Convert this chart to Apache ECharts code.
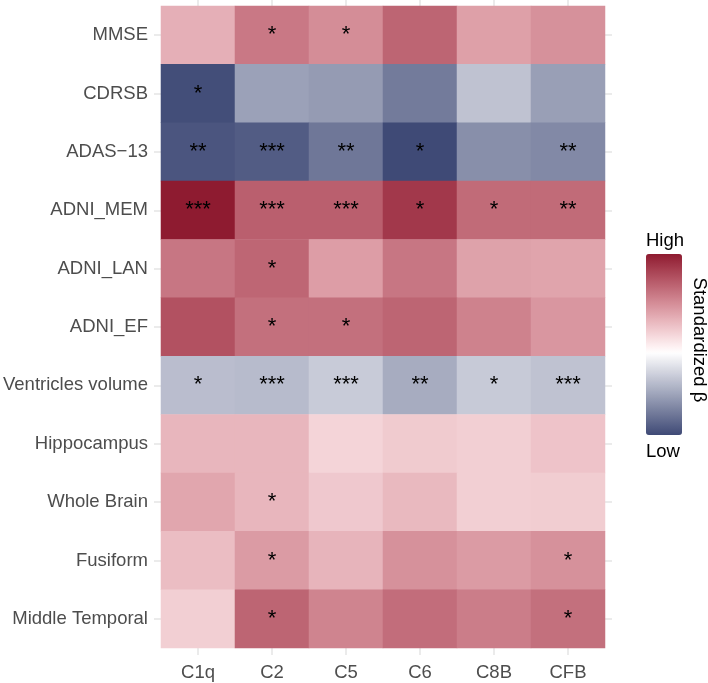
<!DOCTYPE html>
<html>
<head>
<meta charset="utf-8">
<script src="https://cdn.jsdelivr.net/npm/echarts@6/dist/echarts.min.js"></script>
<style>
html,body{margin:0;padding:0;background:#fff;}
#chart{width:708px;height:683px;}
</style>
</head>
<body>
<div id="chart"></div>
<script>
// Columns (complement components)
const columns = ['C1q', 'C2', 'C5', 'C6', 'C8B', 'CFB'];
// Rows (outcomes), top to bottom
const rows = ['MMSE', 'CDRSB', 'ADAS\u221213', 'ADNI_MEM', 'ADNI_LAN', 'ADNI_EF',
  'Ventricles volume', 'Hippocampus', 'Whole Brain', 'Fusiform', 'Middle Temporal'];

// Standardized beta values (estimated from colour), one array per row
const betaMMSE        = [0.105, 0.177, 0.150, 0.203, 0.126, 0.144];
const betaCDRSB       = [-0.245, -0.130, -0.138, -0.183, -0.083, -0.133];
const betaADAS13      = [-0.235, -0.225, -0.188, -0.250, -0.155, -0.163];
const betaADNI_MEM    = [0.300, 0.210, 0.210, 0.261, 0.195, 0.195];
const betaADNI_LAN    = [0.180, 0.201, 0.129, 0.180, 0.123, 0.120];
const betaADNI_EF     = [0.228, 0.189, 0.189, 0.203, 0.165, 0.138];
const betaVentricles  = [-0.090, -0.093, -0.071, -0.115, -0.073, -0.083];
const betaHippocampus = [0.096, 0.096, 0.057, 0.069, 0.063, 0.078];
const betaWholeBrain  = [0.117, 0.096, 0.072, 0.093, 0.063, 0.066];
const betaFusiform    = [0.087, 0.132, 0.099, 0.144, 0.132, 0.144];
const betaMidTemporal = [0.063, 0.203, 0.162, 0.192, 0.171, 0.189];

// Significance marks, one array per row
const sigMMSE        = ['', '*', '*', '', '', ''];
const sigCDRSB       = ['*', '', '', '', '', ''];
const sigADAS13      = ['**', '***', '**', '*', '', '**'];
const sigADNI_MEM    = ['***', '***', '***', '*', '*', '**'];
const sigADNI_LAN    = ['', '*', '', '', '', ''];
const sigADNI_EF     = ['', '*', '*', '', '', ''];
const sigVentricles  = ['*', '***', '***', '**', '*', '***'];
const sigHippocampus = ['', '', '', '', '', ''];
const sigWholeBrain  = ['', '*', '', '', '', ''];
const sigFusiform    = ['', '*', '', '', '', '*'];
const sigMidTemporal = ['', '*', '', '', '', '*'];

const legendTexts = ['High', 'Low'];
const legendTitle = 'Standardized \u03b2';

const betaRows = [betaMMSE, betaCDRSB, betaADAS13, betaADNI_MEM, betaADNI_LAN, betaADNI_EF,
  betaVentricles, betaHippocampus, betaWholeBrain, betaFusiform, betaMidTemporal];
const sigRows = [sigMMSE, sigCDRSB, sigADAS13, sigADNI_MEM, sigADNI_LAN, sigADNI_EF,
  sigVentricles, sigHippocampus, sigWholeBrain, sigFusiform, sigMidTemporal];

const data = [];
let vmin = Infinity, vmax = -Infinity;
betaRows.forEach((r, yi) => r.forEach((v, xi) => {
  data.push([xi, yi, v]);
  vmin = Math.min(vmin, v); vmax = Math.max(vmax, v);
}));

// diverging gradient (low - white - high), midpoint at 0
const lowCol = [63, 74, 118], highCol = [142, 27, 48];
function mixLow(t) {
  return 'rgb(' + lowCol.map(k => Math.round(255 + (k - 255) * t)).join(',') + ')';
}
function mixHigh(t) {
  const r = Math.round(255 + (highCol[0] - 255) * Math.pow(t, 1.4));
  const g = Math.round(255 + (highCol[1] - 255) * t);
  const b = Math.round(255 + (highCol[2] - 255) * t);
  return 'rgb(' + r + ',' + g + ',' + b + ')';
}
const stops = [];
const N = 81;
for (let i = 0; i < N; i++) {
  const v = vmin + (vmax - vmin) * i / (N - 1);
  stops.push(v < 0 ? mixLow(v / vmin) : mixHigh(v / vmax));
}

const FONT = "'Liberation Sans', Arial, Helvetica, sans-serif";
const gridCol = '#ebebeb';
const FS = 18.5;

const chart = echarts.init(document.getElementById('chart'));
const tickStyle = { show: true, alignWithLabel: true, length: 7, lineStyle: { color: gridCol, width: 2 } };
chart.setOption({
  backgroundColor: '#fff',
  animation: false,
  grid: { left: 160, top: 6, width: 445, height: 642, containLabel: false },
  xAxis: [
    { type: 'category', data: columns, position: 'bottom',
      axisLine: { show: false }, axisTick: tickStyle, splitLine: { show: false },
      axisLabel: { color: '#4d4d4d', fontSize: FS, fontFamily: FONT, margin: 15 } },
    { type: 'category', data: columns, position: 'top',
      axisLine: { show: false }, axisTick: tickStyle, axisLabel: { show: false } }
  ],
  yAxis: [
    { type: 'category', data: rows, inverse: true, position: 'left',
      axisLine: { show: false }, axisTick: tickStyle, splitLine: { show: false },
      axisLabel: { color: '#4d4d4d', fontSize: FS, fontFamily: FONT, margin: 13 } },
    { type: 'category', data: rows, inverse: true, position: 'right',
      axisLine: { show: false }, axisTick: tickStyle, axisLabel: { show: false } }
  ],
  visualMap: {
    type: 'continuous', min: vmin, max: vmax, calculable: false, orient: 'vertical',
    left: 646, top: 254, itemWidth: 36, itemHeight: 181, padding: 0,
    seriesIndex: 0, inRange: { color: stops }, text: null, showLabel: false,
    hoverLink: false
  },
  series: [{
    type: 'heatmap', data: data, xAxisIndex: 0, yAxisIndex: 0,
    itemStyle: { borderWidth: 0 },
    label: { show: true, color: '#000', fontSize: 22, fontFamily: FONT,
      formatter: p => sigRows[p.data[1]][p.data[0]] },
    emphasis: { disabled: true }
  }],
  graphic: [
    { type: 'text', left: 646, top: 231,
      style: { text: legendTexts[0], fontSize: FS, fontFamily: FONT, fill: '#000' } },
    { type: 'text', left: 646, top: 442,
      style: { text: legendTexts[1], fontSize: FS, fontFamily: FONT, fill: '#000' } },
    { type: 'text', x: 699, y: 340, rotation: -Math.PI / 2,
      style: { text: legendTitle, fontSize: FS, fontFamily: FONT, fill: '#000',
        textAlign: 'center', textVerticalAlign: 'middle' } }
  ]
});
</script>
</body>
</html>
